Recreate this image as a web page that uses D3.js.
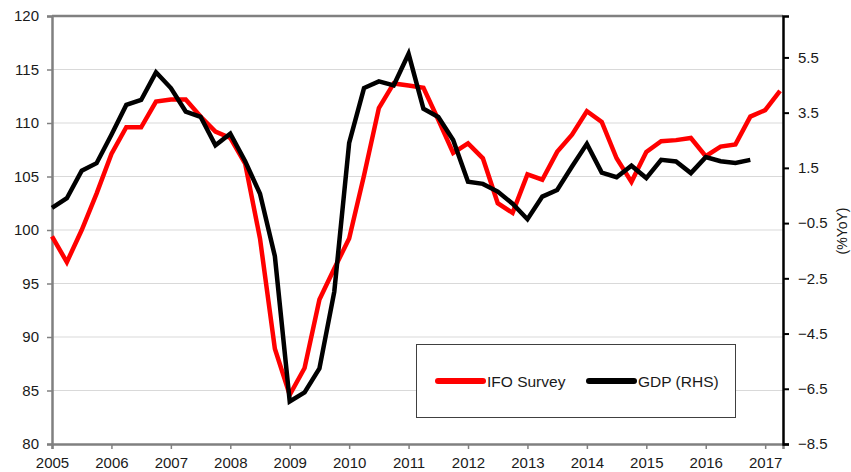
<!DOCTYPE html>
<html>
<head>
<meta charset="utf-8">
<script src="https://cdn.jsdelivr.net/npm/d3@7"></script>
<style>
    body { margin: 0; background: #fff; }
    text { font-family: "Liberation Sans", Arial, sans-serif; fill: #1a1a1a; }
</style>
</head>
<body>
<div id="chart"></div>
<script>
// IFO business climate (lhs) vs German GDP %YoY (rhs), quarterly from 2005Q1
var ifo = [99.4, 97.0, 100.0, 103.4, 107.1, 109.6, 109.6, 112.0, 112.2, 112.2,
    110.6, 109.2, 108.6, 106.2, 99.2, 88.9, 84.6, 87.1, 93.5, 96.4,
    99.2, 105.1, 111.4, 113.7, 113.5, 113.3, 110.3, 107.2, 108.1, 106.7,
    102.5, 101.6, 105.2, 104.7, 107.3, 108.9, 111.1, 110.1, 106.7, 104.5,
    107.3, 108.3, 108.4, 108.6, 106.9, 107.8, 108.0, 110.6, 111.2, 113.0];

var gdp = [0.05, 0.4, 1.4, 1.67, 2.7, 3.78, 3.96, 4.96, 4.39, 3.54,
    3.35, 2.32, 2.74, 1.74, 0.56, -1.7, -6.96, -6.63, -5.76, -2.98,
    2.4, 4.39, 4.63, 4.49, 5.63, 3.64, 3.34, 2.51, 1.0, 0.92,
    0.64, 0.2, -0.36, 0.46, 0.7, 1.55, 2.37, 1.33, 1.16, 1.58,
    1.13, 1.79, 1.73, 1.31, 1.89, 1.74, 1.68, 1.79];

var years = d3.range(2005, 2018);
var leftTicks = [80, 85, 90, 95, 100, 105, 110, 115, 120];
var rightTicks = [-8.5, -6.5, -4.5, -2.5, -0.5, 1.5, 3.5, 5.5];

var width = 851,
    height = 472,
    margin = { top: 16, left: 52, bottom: 28, right: 68 };

var x = d3.scaleLinear()
    .domain([2005, 2017.3])
    .range([margin.left, width - margin.right]);

var yL = d3.scaleLinear()
    .domain([80, 120])
    .range([height - margin.bottom, margin.top]);

var yR = d3.scaleLinear()
    .domain([-8.5, 7])
    .range([height - margin.bottom, margin.top]);

var svg = d3.select("#chart")
    .append("svg")
    .attr("width", width)
    .attr("height", height);

// gridlines
svg.append("g")
    .selectAll("line")
    .data(leftTicks.slice(1, -1))
    .enter().append("line")
    .attr("x1", x.range()[0])
    .attr("x2", x.range()[1])
    .attr("y1", function(d) { return yL(d); })
    .attr("y2", function(d) { return yL(d); })
    .style("stroke", "#d9d9d9")
    .style("stroke-width", 1);

// top border
svg.append("line")
    .attr("x1", x.range()[0])
    .attr("x2", x.range()[1])
    .attr("y1", yL(120))
    .attr("y2", yL(120))
    .style("stroke", "#808080")
    .style("stroke-width", 2.5);

var bottom = svg.append("g")
    .attr("transform", "translate(0," + yL(80) + ")")
    .call(d3.axisBottom(x).tickValues(years).tickFormat(d3.format("d")).tickSizeOuter(0).tickSize(5).tickPadding(8));

var left = svg.append("g")
    .attr("transform", "translate(" + x.range()[0] + ",0)")
    .call(d3.axisLeft(yL).tickValues(leftTicks).tickSizeOuter(0).tickSize(5).tickPadding(8));

var right = svg.append("g")
    .attr("transform", "translate(" + x.range()[1] + ",0)")
    .call(d3.axisRight(yR).tickValues(rightTicks).tickFormat(d3.format(".1f")).tickSizeOuter(0).tickSize(6).tickPadding(9));

[bottom, left].forEach(function(g) {
    g.select(".domain").style("stroke", "#808080").style("stroke-width", 2.5);
    g.selectAll(".tick line").style("stroke", "#808080").style("stroke-width", 1.5);
});
right.select(".domain").style("stroke", "#000").style("stroke-width", 2.5);
right.selectAll(".tick line").style("stroke", "#000").style("stroke-width", 2);

svg.selectAll(".tick text")
    .style("font-family", "'Liberation Sans', Arial, sans-serif")
    .style("font-size", "15px")
    .style("fill", "#1a1a1a");

svg.append("text")
    .attr("transform", "translate(843,231) rotate(-90)")
    .attr("text-anchor", "middle")
    .attr("dominant-baseline", "middle")
    .style("font-size", "14px")
    .text("(%YoY)");

var lineL = d3.line()
    .x(function(d, i) { return x(2005 + i / 4); })
    .y(function(d) { return yL(d); });

var lineR = d3.line()
    .x(function(d, i) { return x(2005 + i / 4); })
    .y(function(d) { return yR(d); });

svg.append("path")
    .datum(ifo)
    .attr("d", lineL)
    .style("fill", "none")
    .style("stroke", "#ff0000")
    .style("stroke-width", 4.5);

svg.append("path")
    .datum(gdp)
    .attr("d", lineR)
    .style("fill", "none")
    .style("stroke", "#000")
    .style("stroke-width", 4.5);

// legend
var legend = svg.append("g");
legend.append("rect")
    .attr("x", 416.5)
    .attr("y", 344.5)
    .attr("width", 319)
    .attr("height", 73)
    .style("fill", "#fff")
    .style("stroke", "#404040")
    .style("stroke-width", 1);

var items = [
    { name: "IFO Survey", color: "#ff0000", x: 438 },
    { name: "GDP (RHS)", color: "#000", x: 589 }
];

items.forEach(function(d) {
    legend.append("line")
        .attr("x1", d.x)
        .attr("x2", d.x + 45)
        .attr("y1", 381)
        .attr("y2", 381)
        .style("stroke", d.color)
        .style("stroke-width", 6)
        .style("stroke-linecap", "round");
    legend.append("text")
        .attr("x", d.x + 49)
        .attr("y", 386.5)
        .style("font-size", "15.5px")
        .text(d.name);
});
</script>
</body>
</html>
